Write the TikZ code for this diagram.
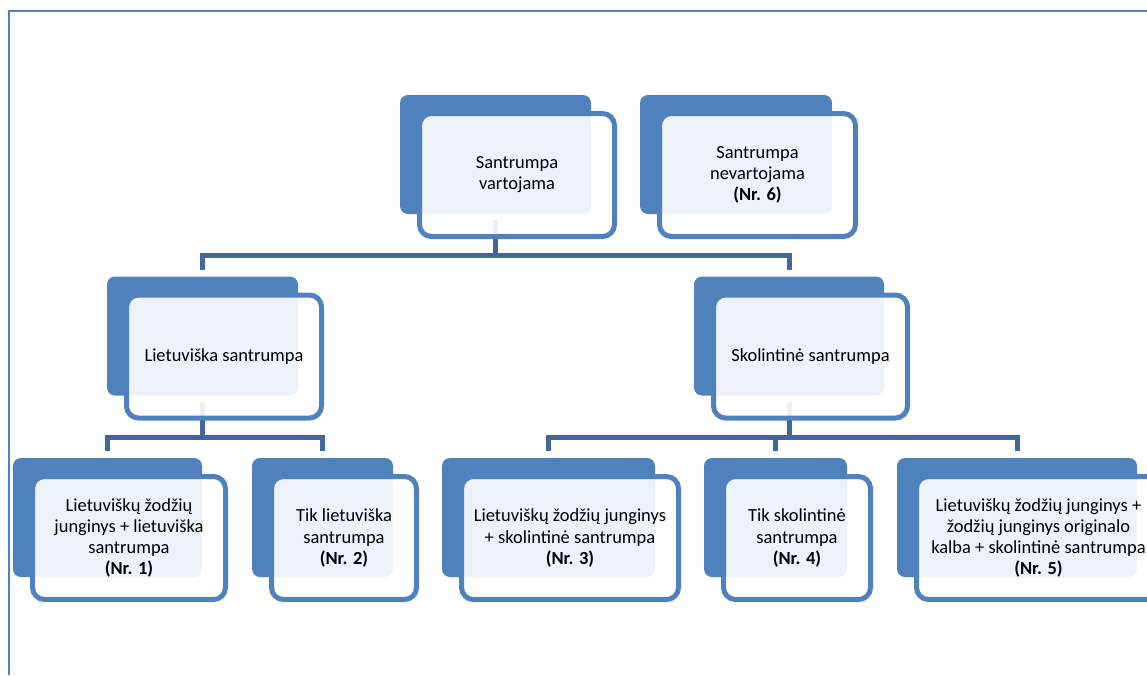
\documentclass[tikz,border=0pt]{standalone}
\usepackage{fontspec}
\setmainfont{Carlito}
\usepackage{xcolor}
\usepackage{tikz}
\definecolor{boxblue}{RGB}{79,129,189}
\definecolor{lineblue}{RGB}{64,104,158}

\begin{document}
\begin{tikzpicture}[
    back/.style={rectangle, fill=boxblue, rounded corners=0.16cm, minimum height=2.38cm, inner sep=0pt},
    front/.style={rectangle, draw=boxblue, line width=0.1cm, fill=white, fill opacity=0.9, text opacity=1, rounded corners=0.24cm, minimum height=2.46cm, inner sep=0pt, align=center, font=\fontsize{10.5pt}{12pt}\selectfont},
    conn/.style={draw=lineblue, line width=0.1cm, shorten <=0.12cm, shorten >=0.13cm}
]
    \useasboundingbox (0,0) rectangle (22.94,-13.5);
    \draw[boxblue, line width=0.04cm] (0.18,-13.5) -- (0.18,-0.22) -- (22.94,-0.22);

    % back plates
    \node[back, minimum width=3.82cm] (vartbg) at (9.91,-3.09) {};
    \node[back, minimum width=3.84cm] (nevartbg) at (14.72,-3.09) {};
    \node[back, minimum width=3.82cm] (lietbg) at (4.05,-6.72) {};
    \node[back, minimum width=3.80cm] (skolbg) at (15.78,-6.72) {};
    \node[back, minimum width=3.78cm] (n1bg) at (2.15,-10.35) {};
    \node[back, minimum width=2.82cm] (n2bg) at (6.45,-10.35) {};
    \node[back, minimum width=4.26cm] (n3bg) at (10.97,-10.35) {};
    \node[back, minimum width=2.86cm] (n4bg) at (15.51,-10.35) {};
    \node[back, minimum width=4.80cm] (n5bg) at (20.34,-10.35) {};

    % connectors
    \coordinate (bus1) at (0,-5.11);
    \coordinate (bus2) at (0,-8.75);
    \draw[conn] (vartbg.south) -- (vartbg.south |- bus1) -| (lietbg.north);
    \draw[conn] (vartbg.south) -- (vartbg.south |- bus1) -| (skolbg.north);
    \draw[conn] (lietbg.south) -- (lietbg.south |- bus2) -| (n1bg.north);
    \draw[conn] (lietbg.south) -- (lietbg.south |- bus2) -| (n2bg.north);
    \draw[conn] (skolbg.south) -- (skolbg.south |- bus2) -| (n3bg.north);
    \draw[conn] (skolbg.south) -- (skolbg.south |- bus2) -| (n4bg.north);
    \draw[conn] (skolbg.south) -- (skolbg.south |- bus2) -| (n5bg.north);

    % text boxes
    \node[front, minimum width=3.90cm] (vart) at (10.34,-3.50) {Santrumpa\\vartojama};
    \node[front, minimum width=3.92cm] (nevart) at (15.15,-3.50) {Santrumpa\\nevartojama\\\textbf{(Nr. 6)}};
    \node[front, minimum width=3.90cm] (liet) at (4.48,-7.13) {Lietuviška santrumpa};
    \node[front, minimum width=3.88cm] (skol) at (16.21,-7.13) {Skolintinė santrumpa};
    \node[front, minimum width=3.86cm] (n1) at (2.58,-10.76) {Lietuviškų žodžių\\junginys + lietuviška\\santrumpa\\\textbf{(Nr. 1)}};
    \node[front, minimum width=2.90cm] (n2) at (6.88,-10.76) {Tik lietuviška\\santrumpa\\\textbf{(Nr. 2)}};
    \node[front, minimum width=4.34cm] (n3) at (11.40,-10.76) {Lietuviškų žodžių junginys\\+ skolintinė santrumpa\\\textbf{(Nr. 3)}};
    \node[front, minimum width=2.94cm] (n4) at (15.94,-10.76) {Tik skolintinė\\santrumpa\\\textbf{(Nr. 4)}};
    \node[front, minimum width=4.88cm] (n5) at (20.77,-10.76) {Lietuviškų žodžių junginys +\\žodžių junginys originalo\\kalba + skolintinė santrumpa\\\textbf{(Nr. 5)}};
\end{tikzpicture}
\end{document}
